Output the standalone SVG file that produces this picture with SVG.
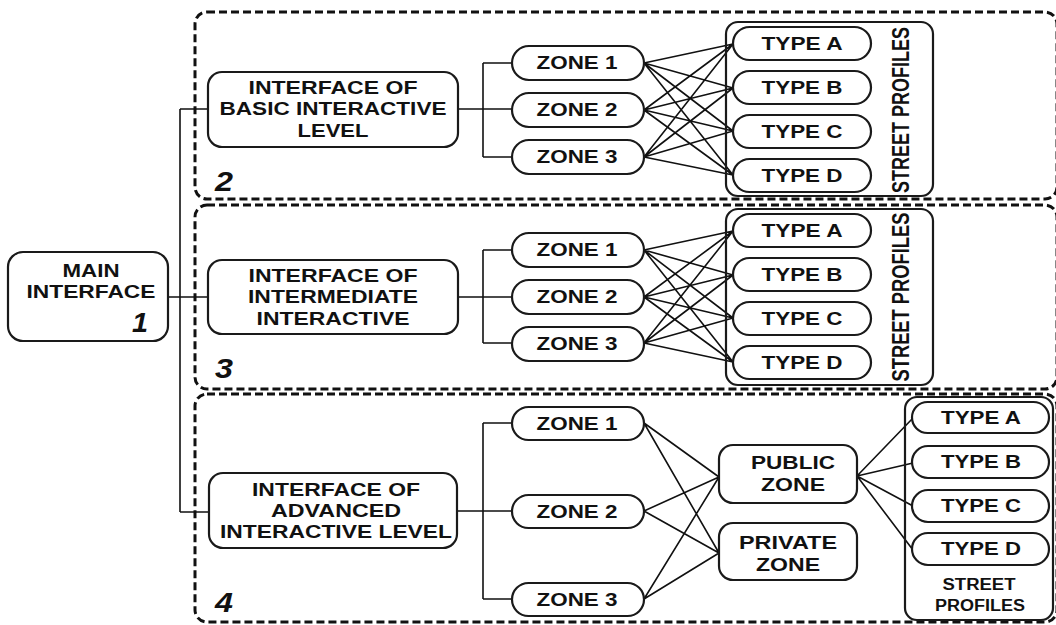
<svg xmlns="http://www.w3.org/2000/svg" width="1056" height="625" viewBox="0 0 1056 625">
  <style>
    .frame { fill: none; stroke: #111; stroke-width: 3; stroke-dasharray: 8 4; }
    .box { fill: #fff; stroke: #1a1a1a; stroke-width: 2.2; }
    .group { fill: none; stroke: #1a1a1a; stroke-width: 2.2; }
    .wire { fill: none; stroke: #111; stroke-width: 1.6; }
    text { font-family: "Liberation Sans", Arial, sans-serif; font-weight: bold; fill: #111; text-anchor: middle; }
    .t { font-size: 18.5px; }
    .s { font-size: 16px; }
    .num { font-size: 27px; font-style: italic; text-anchor: start; }
  </style>

  <rect width="1056" height="625" fill="#fff"/>

  <!-- level frames (right side runs past the edge of the sheet) -->
  <g id="frames">
    <rect class="frame" x="195" y="12" width="862" height="187" rx="12"/>
    <rect class="frame" x="195" y="205" width="862" height="184" rx="12"/>
    <rect class="frame" x="195" y="394" width="862" height="228" rx="12"/>
  </g>

  <!-- connectors -->
  <g id="connectors" class="wire">
    <!-- trunk from main interface -->
    <path d="M180,109 V512 M180,109 H208 M168,297 H208 M180,512 H209"/>
    <!-- level 2 bracket -->
    <path d="M458,109 H512 M483,63 V157 M483,63 H512 M483,157 H512"/>
    <!-- level 3 bracket -->
    <path d="M458,297 H512 M483,250 V343 M483,250 H512 M483,343 H512"/>
    <!-- level 4 bracket -->
    <path d="M457,511 H512 M483,423 V599 M483,423 H512 M483,599 H512"/>
    <!-- level 2 zones to types -->
    <path d="M644,63 L733,44 M644,63 L733,88 M644,63 L733,131 M644,63 L733,175
             M644,110 L733,44 M644,110 L733,88 M644,110 L733,131 M644,110 L733,175
             M644,157 L733,44 M644,157 L733,88 M644,157 L733,131 M644,157 L733,175"/>
    <!-- level 3 zones to types -->
    <path d="M644,250 L733,231 M644,250 L733,275 M644,250 L733,318 M644,250 L733,362
             M644,297 L733,231 M644,297 L733,275 M644,297 L733,318 M644,297 L733,362
             M644,343 L733,231 M644,343 L733,275 M644,343 L733,318 M644,343 L733,362"/>
    <!-- level 4 zones to public / private -->
    <path d="M644,423 L719,477 M644,423 L719,553
             M644,511 L719,477 M644,511 L719,553
             M644,599 L719,477 M644,599 L719,553"/>
    <!-- public zone to types -->
    <path d="M857,476 L913,418 M857,476 L913,463 M857,476 L913,506 M857,476 L913,550"/>
  </g>

  <!-- main interface -->
  <g id="main-interface">
    <rect class="box" x="8" y="252" width="160" height="89" rx="15"/>
    <text class="t" x="91" y="277" textLength="57" lengthAdjust="spacingAndGlyphs">MAIN</text>
    <text class="t" x="91" y="298" textLength="129" lengthAdjust="spacingAndGlyphs">INTERFACE</text>
    <text class="num" x="132" y="332" textLength="16" lengthAdjust="spacingAndGlyphs">1</text>
  </g>

  <!-- level 2 -->
  <g id="level-2">
    <text class="num" x="215" y="191" textLength="18" lengthAdjust="spacingAndGlyphs">2</text>
    <g id="basic-interface">
      <rect class="box" x="208" y="72" width="250" height="75" rx="14"/>
      <text class="t" x="333" y="94" textLength="169" lengthAdjust="spacingAndGlyphs">INTERFACE OF</text>
      <text class="t" x="333" y="115" textLength="227" lengthAdjust="spacingAndGlyphs">BASIC INTERACTIVE</text>
      <text class="t" x="333" y="137" textLength="71" lengthAdjust="spacingAndGlyphs">LEVEL</text>
    </g>
    <g id="l2-zone-1"><rect class="box" x="512" y="46" width="132" height="34" rx="17"/><text class="t" x="577" y="69" textLength="81" lengthAdjust="spacingAndGlyphs">ZONE 1</text></g>
    <g id="l2-zone-2"><rect class="box" x="512" y="93" width="132" height="34" rx="17"/><text class="t" x="577" y="116" textLength="81" lengthAdjust="spacingAndGlyphs">ZONE 2</text></g>
    <g id="l2-zone-3"><rect class="box" x="512" y="140" width="132" height="34" rx="17"/><text class="t" x="577" y="163" textLength="81" lengthAdjust="spacingAndGlyphs">ZONE 3</text></g>
    <g id="l2-profiles">
      <rect class="group" x="726" y="22" width="207" height="174" rx="12"/>
      <text class="t" transform="translate(909,110) scale(1.25,1) rotate(-90)" x="0" y="0" textLength="166" lengthAdjust="spacingAndGlyphs">STREET PROFILES</text>
    </g>
    <g id="l2-type-a"><rect class="box" x="733" y="27" width="138" height="33" rx="16.5"/><text class="t" x="802" y="50" textLength="81" lengthAdjust="spacingAndGlyphs">TYPE A</text></g>
    <g id="l2-type-b"><rect class="box" x="733" y="71" width="138" height="33" rx="16.5"/><text class="t" x="802" y="94" textLength="81" lengthAdjust="spacingAndGlyphs">TYPE B</text></g>
    <g id="l2-type-c"><rect class="box" x="733" y="115" width="138" height="33" rx="16.5"/><text class="t" x="802" y="138" textLength="81" lengthAdjust="spacingAndGlyphs">TYPE C</text></g>
    <g id="l2-type-d"><rect class="box" x="733" y="159" width="138" height="33" rx="16.5"/><text class="t" x="802" y="182" textLength="81" lengthAdjust="spacingAndGlyphs">TYPE D</text></g>
  </g>

  <!-- level 3 -->
  <g id="level-3">
    <text class="num" x="215" y="378" textLength="18" lengthAdjust="spacingAndGlyphs">3</text>
    <g id="intermediate-interface">
      <rect class="box" x="208" y="260" width="250" height="74" rx="14"/>
      <text class="t" x="333" y="282" textLength="169" lengthAdjust="spacingAndGlyphs">INTERFACE OF</text>
      <text class="t" x="333" y="303" textLength="170" lengthAdjust="spacingAndGlyphs">INTERMEDIATE</text>
      <text class="t" x="333" y="325" textLength="153" lengthAdjust="spacingAndGlyphs">INTERACTIVE</text>
    </g>
    <g id="l3-zone-1"><rect class="box" x="512" y="233" width="132" height="34" rx="17"/><text class="t" x="577" y="256" textLength="81" lengthAdjust="spacingAndGlyphs">ZONE 1</text></g>
    <g id="l3-zone-2"><rect class="box" x="512" y="280" width="132" height="34" rx="17"/><text class="t" x="577" y="303" textLength="81" lengthAdjust="spacingAndGlyphs">ZONE 2</text></g>
    <g id="l3-zone-3"><rect class="box" x="512" y="327" width="132" height="34" rx="17"/><text class="t" x="577" y="350" textLength="81" lengthAdjust="spacingAndGlyphs">ZONE 3</text></g>
    <g id="l3-profiles">
      <rect class="group" x="726" y="209" width="207" height="176" rx="12"/>
      <text class="t" transform="translate(909,297) scale(1.25,1) rotate(-90)" x="0" y="0" textLength="169" lengthAdjust="spacingAndGlyphs">STREET PROFILES</text>
    </g>
    <g id="l3-type-a"><rect class="box" x="733" y="214" width="138" height="33" rx="16.5"/><text class="t" x="802" y="237" textLength="81" lengthAdjust="spacingAndGlyphs">TYPE A</text></g>
    <g id="l3-type-b"><rect class="box" x="733" y="258" width="138" height="33" rx="16.5"/><text class="t" x="802" y="281" textLength="81" lengthAdjust="spacingAndGlyphs">TYPE B</text></g>
    <g id="l3-type-c"><rect class="box" x="733" y="302" width="138" height="33" rx="16.5"/><text class="t" x="802" y="325" textLength="81" lengthAdjust="spacingAndGlyphs">TYPE C</text></g>
    <g id="l3-type-d"><rect class="box" x="733" y="346" width="138" height="33" rx="16.5"/><text class="t" x="802" y="369" textLength="81" lengthAdjust="spacingAndGlyphs">TYPE D</text></g>
  </g>

  <!-- level 4 -->
  <g id="level-4">
    <text class="num" x="215" y="612" textLength="18" lengthAdjust="spacingAndGlyphs">4</text>
    <g id="advanced-interface">
      <rect class="box" x="209" y="473" width="248" height="75" rx="14"/>
      <text class="t" x="336" y="496" textLength="168" lengthAdjust="spacingAndGlyphs">INTERFACE OF</text>
      <text class="t" x="336" y="517" textLength="130" lengthAdjust="spacingAndGlyphs">ADVANCED</text>
      <text class="t" x="336" y="538" textLength="232" lengthAdjust="spacingAndGlyphs">INTERACTIVE LEVEL</text>
    </g>
    <g id="l4-zone-1"><rect class="box" x="512" y="407" width="132" height="33" rx="16.5"/><text class="t" x="577" y="430" textLength="81" lengthAdjust="spacingAndGlyphs">ZONE 1</text></g>
    <g id="l4-zone-2"><rect class="box" x="512" y="495" width="132" height="33" rx="16.5"/><text class="t" x="577" y="518" textLength="81" lengthAdjust="spacingAndGlyphs">ZONE 2</text></g>
    <g id="l4-zone-3"><rect class="box" x="512" y="583" width="132" height="33" rx="16.5"/><text class="t" x="577" y="606" textLength="81" lengthAdjust="spacingAndGlyphs">ZONE 3</text></g>
    <g id="public-zone">
      <rect class="box" x="719" y="445" width="138" height="58" rx="14"/>
      <text class="t" x="793" y="469" textLength="84" lengthAdjust="spacingAndGlyphs">PUBLIC</text>
      <text class="t" x="793" y="491" textLength="64" lengthAdjust="spacingAndGlyphs">ZONE</text>
    </g>
    <g id="private-zone">
      <rect class="box" x="719" y="523" width="138" height="57" rx="14"/>
      <text class="t" x="788" y="549" textLength="98" lengthAdjust="spacingAndGlyphs">PRIVATE</text>
      <text class="t" x="788" y="571" textLength="64" lengthAdjust="spacingAndGlyphs">ZONE</text>
    </g>
    <g id="l4-profiles">
      <rect class="group" x="905" y="397" width="148" height="223" rx="12"/>
      <text class="s" x="979" y="590" textLength="73" lengthAdjust="spacingAndGlyphs">STREET</text>
      <text class="s" x="980" y="611" textLength="90" lengthAdjust="spacingAndGlyphs">PROFILES</text>
    </g>
    <g id="l4-type-a"><rect class="box" x="912" y="402" width="137" height="31" rx="15.5"/><text class="t" x="981" y="424" textLength="80" lengthAdjust="spacingAndGlyphs">TYPE A</text></g>
    <g id="l4-type-b"><rect class="box" x="912" y="446" width="137" height="32" rx="16"/><text class="t" x="981" y="468" textLength="80" lengthAdjust="spacingAndGlyphs">TYPE B</text></g>
    <g id="l4-type-c"><rect class="box" x="912" y="490" width="137" height="32" rx="16"/><text class="t" x="981" y="512" textLength="80" lengthAdjust="spacingAndGlyphs">TYPE C</text></g>
    <g id="l4-type-d"><rect class="box" x="912" y="533" width="137" height="32" rx="16"/><text class="t" x="981" y="555" textLength="80" lengthAdjust="spacingAndGlyphs">TYPE D</text></g>
  </g>
</svg>
